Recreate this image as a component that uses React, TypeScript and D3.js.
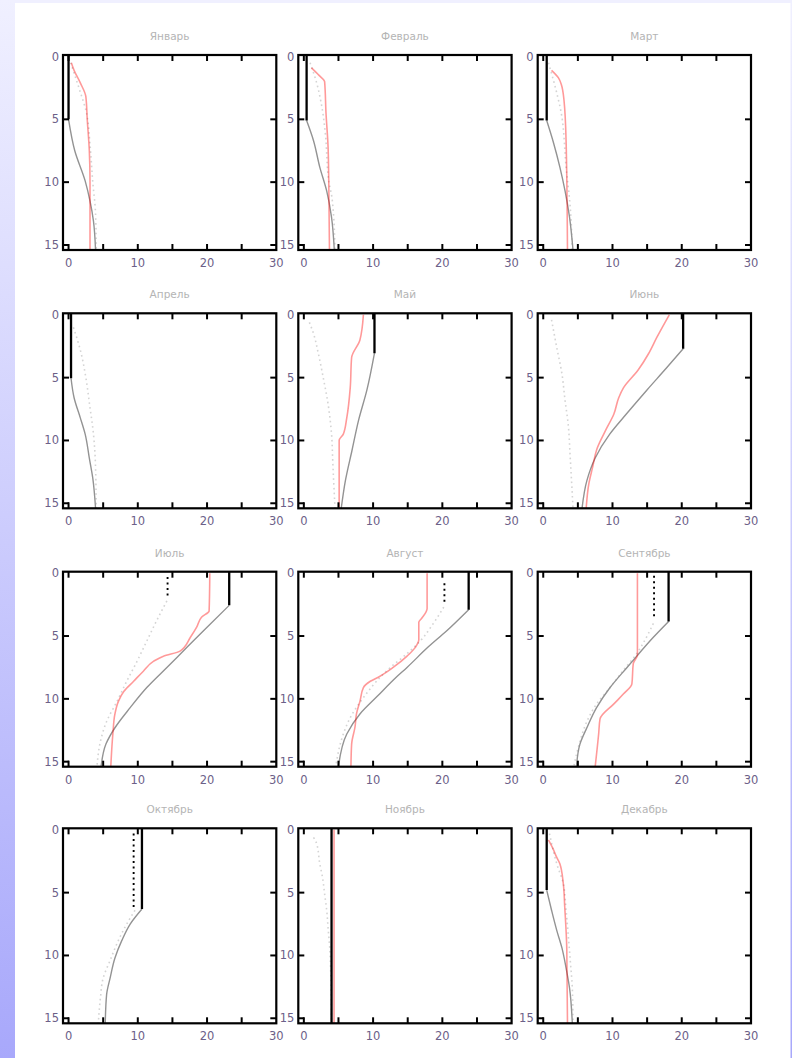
import React from "react";
import * as d3 from "d3";

const MONTHS = ["Январь", "Февраль", "Март", "Апрель", "Май", "Июнь", "Июль", "Август", "Сентябрь", "Октябрь", "Ноябрь", "Декабрь"];
const X_TICK_LABELS = [0, 10, 20, 30];
const X_TICKS = [0, 5, 10, 15, 20, 25];
const Y_TICK_LABELS = [0, 5, 10, 15];

// mixed layer temperature and depth (black solid)
const MIX_T = [0.0, 0.4, 0.5, 0.36, 10.2, 20.2, 23.2, 23.8, 18.1, 10.6, 4.0, 0.5];
const MIX_H = [5.0, 5.1, 5.1, 5.05, 3.05, 2.7, 2.56, 2.9, 3.84, 6.3, 15.4, 4.8];

// thermocline below mixed layer (gray solid)
const THERMO: number[][][] = [
  [[0, 5], [0.9, 7.5], [2.4, 9.9], [3.1, 11.5], [3.6, 13.1], [3.9, 15.4]],
  [[0.4, 5.1], [1.4, 6.7], [2.3, 8.8], [3.3, 10.7], [4.0, 12.8], [4.4, 15.4]],
  [[0.5, 5.1], [1.5, 6.9], [2.4, 8.8], [3.15, 10.7], [3.8, 12.8], [4.3, 15.4]],
  [[0.36, 5.05], [0.8, 6.6], [1.7, 8.2], [2.4, 9.5], [3.0, 11.4], [3.5, 13.0], [3.9, 15.4]],
  [[10.2, 3.05], [9.1, 6.0], [7.9, 8.4], [6.95, 10.8], [6.0, 13.2], [5.4, 15.4]],
  [[20.2, 2.7], [17.85, 4.2], [14.95, 6.0], [12.0, 7.9], [9.6, 9.5], [7.5, 11.4], [6.3, 13.2], [5.6, 15.4]],
  [[23.2, 2.56], [20.0, 4.3], [17.1, 5.9], [14.2, 7.5], [11.3, 9.1], [8.9, 10.7], [6.7, 12.3], [5.4, 13.6], [4.7, 15.4]],
  [[23.8, 2.9], [20.6, 4.6], [17.9, 5.9], [14.9, 7.5], [13.3, 8.3], [10.6, 9.8], [8.1, 11.2], [6.2, 12.8], [5.0, 15.4]],
  [[18.1, 3.84], [15.9, 5.1], [13.5, 6.6], [12.1, 7.5], [9.65, 9.1], [7.7, 10.7], [6.3, 12.3], [5.3, 13.6], [4.8, 15.4]],
  [[10.6, 6.3], [8.9, 7.5], [7.7, 8.8], [6.7, 10.2], [6.0, 11.8], [5.5, 13.1], [5.3, 15.4]],
  [],
  [[0.5, 4.8], [1.2, 6.4], [1.95, 8.0], [2.7, 9.4], [3.3, 11.0], [3.8, 12.6], [4.2, 15.4]],
];

// observed profile (pink)
const OBS: number[][][] = [
  [[0.4, 0.5], [0.8, 1.1], [1.7, 2.1], [2.5, 3.2], [2.7, 5], [3.0, 7.5], [3.1, 10], [3.1, 15.4]],
  [[1.1, 0.9], [2.2, 1.5], [3.0, 2.0], [3.2, 4.5], [3.5, 7.2], [3.6, 10], [3.7, 15.4]],
  [[1.2, 1.1], [2.2, 1.7], [2.6, 2.2], [3.0, 3.5], [3.3, 6.7], [3.5, 15.4]],
  [],
  [[8.6, 0], [8.1, 2.0], [6.9, 3.4], [6.7, 5.8], [6.2, 8.2], [5.7, 9.5], [5.1, 10.0], [5.1, 15.4]],
  [[18.2, 0], [16.4, 1.8], [15.2, 3.1], [13.7, 4.4], [11.6, 5.8], [10.9, 6.6], [10.2, 7.9], [9.0, 9.2], [7.8, 10.6], [7.1, 12.2], [6.6, 13.4], [6.2, 15.4]],
  [[20.4, 0], [20.3, 3.0], [19.2, 3.5], [18.5, 4.3], [17.6, 5.1], [16.1, 6.2], [13.7, 6.6], [12.3, 7.0], [10.8, 7.8], [9.4, 8.6], [8.0, 9.4], [7.2, 10.2], [6.7, 11.2], [6.4, 12.8], [6.1, 15.4]],
  [[17.8, 0], [17.8, 2.8], [17.0, 3.6], [16.6, 3.9], [16.6, 5.3], [16.1, 5.9], [14.9, 6.6], [12.9, 7.5], [11.0, 8.2], [9.6, 8.6], [8.6, 9.1], [8.1, 10.2], [7.6, 11.2], [7.4, 12.2], [6.9, 13.6], [6.8, 15.4]],
  [[13.6, 0], [13.6, 6.5], [13.0, 7.2], [12.8, 8.8], [11.6, 9.6], [10.2, 10.4], [8.2, 11.6], [8.0, 12.8], [7.5, 15.4]],
  [],
  [[4.36, 0], [4.36, 15.4]],
  [[0.75, 0.8], [1.4, 1.5], [1.95, 2.2], [2.4, 2.7], [2.9, 4.3], [3.1, 6.1], [3.4, 9.5], [3.5, 15.4]],
];

// model profile (light gray dotted)
const MODEL: number[][][] = [
  [[0.3, 0.5], [1.5, 2.5], [2.6, 4.5], [3.1, 7], [3.5, 10], [3.9, 12.5], [4.0, 15.4]],
  [[0.9, 0.5], [1.8, 2], [2.6, 4], [3.1, 6.1], [3.6, 9.9], [4.1, 11.4], [4.5, 15.4]],
  [[0.75, 0.5], [1.95, 2.9], [2.6, 4.5], [3.3, 8.8], [3.9, 12], [4.2, 15.4]],
  [[0.7, 1.0], [1.7, 2.8], [2.5, 5.0], [3.1, 7.4], [3.5, 9], [3.85, 11.4], [4.0, 15.4]],
  [[0.8, 0.6], [1.4, 1.5], [2.1, 3.1], [2.8, 5.0], [3.5, 7.1], [4.0, 9.5], [4.2, 12], [4.5, 15.4]],
  [[1.2, 0.4], [1.95, 2.6], [2.7, 4.7], [3.15, 6.8], [3.6, 8.7], [3.9, 11.4], [4.3, 15.4]],
  [[14.2, 2.2], [12.7, 3.8], [11.3, 5.4], [9.9, 7.0], [8.4, 8.6], [7.0, 10.2], [5.5, 11.8], [4.6, 13.4], [4.1, 15.4]],
  [[20.2, 2.7], [18.7, 4.0], [16.8, 5.4], [14.9, 6.4], [12.5, 7.5], [10.5, 8.6], [8.6, 9.9], [6.7, 11.5], [5.7, 12.8], [4.6, 15.4]],
  [[15.9, 4.0], [14.9, 5.1], [13.5, 6.4], [11.6, 7.7], [9.65, 9.1], [7.7, 10.4], [6.3, 11.8], [5.3, 13.4], [4.4, 15.4]],
  [[9.6, 6.4], [8.4, 7.5], [7.2, 8.8], [6.0, 10.4], [5.0, 11.8], [4.6, 13.4], [4.3, 15.4]],
  [[1.4, 0.6], [1.85, 1.1], [2.3, 2.7], [2.7, 3.8], [3.0, 5.1], [3.3, 6.4], [3.5, 7.8], [3.8, 10], [4.0, 15.4]],
  [[0.9, 0.3], [1.95, 2.7], [2.9, 4.3], [3.3, 6.4], [3.6, 8.3], [3.9, 10.4], [4.2, 12.6], [4.3, 15.4]],
];

// model mixed layer (black dotted): [temperature, top depth, bottom depth]
const MODEL_MIX: (number[] | null)[] = [null, null, null, null, null, null, [14.3, 0.3, 2.0], [20.3, 0.8, 2.4], [16.0, 0.2, 3.6], [9.4, 0.3, 6.2], null, null];

const COL_X = [63, 298.3, 537.7];
const ROW_Y = [55, 313.3, 571.7, 828.3];
const PW = 213.3;
const PH = 195;

function Panel({ i }: { i: number }) {
  const left = COL_X[i % 3];
  const top = ROW_Y[Math.floor(i / 3)];
  const x = d3.scaleLinear().domain([-0.8, 30]).range([0, PW]);
  const y = d3.scaleLinear().domain([-0.12, 15.4]).range([0, PH]);
  const lineSmooth = d3.line<number[]>().x((d) => x(d[0])).y((d) => y(d[1])).curve(d3.curveMonotoneY);
  const mm = MODEL_MIX[i];
  const tickFont = "DejaVu Sans, sans-serif";
  return (
    <g transform={`translate(${left},${top})`}>
      <defs>
        <clipPath id={`clip${i}`}>
          <rect x={0} y={0} width={PW} height={PH} />
        </clipPath>
      </defs>
      <text x={PW / 2} y={-15} textAnchor="middle" fontSize={10.5} fill="#b4b4b4" fontFamily={tickFont}>
        {MONTHS[i]}
      </text>
      <g clipPath={`url(#clip${i})`}>
        {MODEL[i].length > 0 && (
          <path d={lineSmooth(MODEL[i]) || ""} fill="none" stroke="#d4d4d4" strokeWidth={1.6} strokeDasharray="1.6,3.2" />
        )}
        {THERMO[i].length > 0 && (
          <path d={lineSmooth(THERMO[i]) || ""} fill="none" stroke="#939393" strokeWidth={1.4} />
        )}
        {mm && (
          <line x1={x(mm[0])} x2={x(mm[0])} y1={y(mm[1])} y2={y(mm[2])} stroke="#000" strokeWidth={1.9} strokeDasharray="2,3.5" />
        )}
        <line x1={x(MIX_T[i])} x2={x(MIX_T[i])} y1={y(-0.12)} y2={y(MIX_H[i])} stroke="#000" strokeWidth={2.3} />
        {OBS[i].length > 0 && (
          <path d={lineSmooth(OBS[i]) || ""} fill="none" stroke="rgba(255,0,0,0.4)" strokeWidth={1.6} />
        )}
      </g>
      {X_TICKS.map((t) => (
        <g key={`xt${t}`}>
          <line x1={x(t)} x2={x(t)} y1={0} y2={6} stroke="#000" strokeWidth={2} />
          <line x1={x(t)} x2={x(t)} y1={PH} y2={PH - 6} stroke="#000" strokeWidth={2} />
        </g>
      ))}
      {Y_TICK_LABELS.filter((t) => t > 0).map((t) => (
        <g key={`yt${t}`}>
          <line x1={0} x2={6} y1={y(t)} y2={y(t)} stroke="#000" strokeWidth={2} />
          <line x1={PW} x2={PW - 6} y1={y(t)} y2={y(t)} stroke="#000" strokeWidth={2} />
        </g>
      ))}
      <rect x={0} y={0} width={PW} height={PH} fill="none" stroke="#000" strokeWidth={2.2} />
      {Y_TICK_LABELS.map((t) => (
        <text key={`yl${t}`} x={-4} y={y(t) + 4} textAnchor="end" fontSize={11.5} fill="#6c6088" fontFamily={tickFont}>
          {t}
        </text>
      ))}
      {X_TICK_LABELS.map((t) => (
        <text key={`xl${t}`} x={x(t)} y={PH + 17} textAnchor="middle" fontSize={11.5} fill="#6c6088" fontFamily={tickFont}>
          {t}
        </text>
      ))}
    </g>
  );
}

export default function App() {
  return (
    <svg width={792} height={1058} style={{ position: "absolute", left: 0, top: 0 }} xmlns="http://www.w3.org/2000/svg">
      <defs>
        <linearGradient id="side" x1="0" y1="0" x2="0" y2="1">
          <stop offset="0" stopColor="#f0f0ff" />
          <stop offset="1" stopColor="#a8a8fb" />
        </linearGradient>
      </defs>
      <rect x={0} y={0} width={792} height={1058} fill="#ffffff" />
      <rect x={0} y={0} width={792} height={3} fill="#f0f0ff" />
      <rect x={0} y={0} width={15} height={1058} fill="url(#side)" />
      <rect x={790.5} y={0} width={1.5} height={1058} fill="url(#side)" />
      {MONTHS.map((m, i) => (
        <Panel key={m} i={i} />
      ))}
    </svg>
  );
}
